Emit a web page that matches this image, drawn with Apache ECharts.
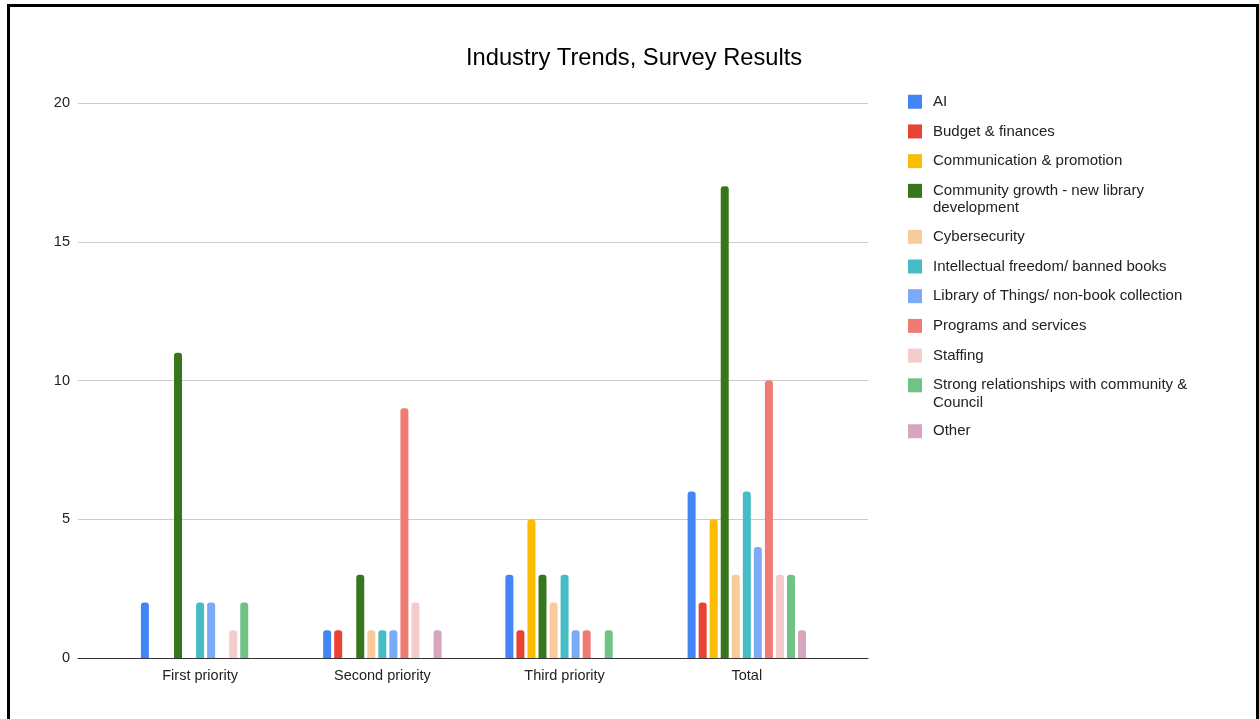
<!DOCTYPE html>
<html>
<head>
<meta charset="utf-8">
<title>Industry Trends, Survey Results</title>
<script src="https://cdn.jsdelivr.net/npm/echarts@6/dist/echarts.min.js"></script>
<style>
  html, body { margin: 0; padding: 0; background: #fff; }
  #chart { position: absolute; left: 0; top: 0; width: 1259px; height: 719px; }
  #frame {
    position: absolute; left: 7px; top: 4px; width: 1246px; height: 714px;
    border: 3px solid #000; border-bottom: 1px solid #ccc; pointer-events: none;
  }
</style>
</head>
<body>
<div id="chart"></div>
<div id="frame"></div>
<script>
// categories on the x axis
const categories = ['First priority', 'Second priority', 'Third priority', 'Total']

// one value per category for each answer
const ai = [2, 1, 3, 6]
const budget = [0, 1, 1, 2]
const communication = [0, 0, 5, 5]
const communityGrowth = [11, 3, 3, 17]
const cybersecurity = [0, 1, 2, 3]
const intellectualFreedom = [2, 1, 3, 6]
const libraryOfThings = [2, 1, 1, 4]
const programs = [0, 9, 1, 10]
const staffing = [1, 2, 0, 3]
const relationships = [2, 0, 1, 3]
const other = [0, 1, 0, 1]

const yTicks = [0, 5, 10, 15, 20]

const seriesList = [
  { name: 'AI', data: ai, color: '#4285f4' },
  { name: 'Budget & finances', data: budget, color: '#ea4335' },
  { name: 'Communication & promotion', data: communication, color: '#fbbc04' },
  { name: 'Community growth - new library development', data: communityGrowth, color: '#38761d', lines: ['Community growth - new library', 'development'] },
  { name: 'Cybersecurity', data: cybersecurity, color: '#f9cb9c' },
  { name: 'Intellectual freedom/ banned books', data: intellectualFreedom, color: '#46bdc6' },
  { name: 'Library of Things/ non-book collection', data: libraryOfThings, color: '#7baaf7' },
  { name: 'Programs and services', data: programs, color: '#f07b72' },
  { name: 'Staffing', data: staffing, color: '#f4cccc' },
  { name: 'Strong relationships with community & Council', data: relationships, color: '#71c287', lines: ['Strong relationships with community &', 'Council'] },
  { name: 'Other', data: other, color: '#d5a6bd' }
]

const chart = echarts.init(document.getElementById('chart'))

const option = {
  backgroundColor: '#fff',
  animation: false,
  textStyle: { fontFamily: 'Liberation Sans, Arial, sans-serif' },
  title: {
    text: 'Industry Trends, Survey Results',
    left: 461,
    top: 41,
    textStyle: { fontSize: 23.7, fontWeight: 'normal', color: '#000' }
  },
  legend: {
    orient: 'vertical',
    left: 903,
    top: 88,
    icon: 'rect',
    itemWidth: 14,
    itemHeight: 14,
    itemGap: 12.2,
    textStyle: { fontSize: 15, color: '#222', lineHeight: 17.5, padding: [0, 0, 0, 6] },
    data: seriesList.map(function(s) {
      if (s.lines) {
        // wrapped label: keep the first line level with the icon
        return {
          name: s.name,
          textStyle: {
            padding: [0, 0, -17.5, 6],
            rich: { w: { fontSize: 15, color: '#222', lineHeight: 17.5 } }
          }
        }
      }
      return { name: s.name }
    }),
    formatter: function(name) {
      const found = seriesList.find(function(s) { return s.name === name })
      if (found && found.lines) {
        return found.lines.map(function(l) { return '{w|' + l + '}' }).join('\n')
      }
      return name
    }
  },
  grid: { left: 78, right: 391, top: 103, bottom: 61, containLabel: false },
  xAxis: {
    type: 'value',
    min: -0.67,
    max: 3.665,
    splitLine: { show: false },
    axisLine: { show: true, onZero: false, lineStyle: { color: '#333', width: 1 } },
    axisTick: { show: false },
    axisLabel: {
      fontSize: 14.5,
      color: '#222',
      margin: 10,
      customValues: [0, 1, 2, 3],
      formatter: function(v) { return categories[Math.round(v)] }
    }
  },
  yAxis: {
    type: 'value',
    min: yTicks[0],
    max: yTicks[yTicks.length - 1],
    interval: 5,
    axisLine: { show: false },
    axisTick: { show: false },
    axisLabel: { fontSize: 14.5, color: '#222', margin: 8 },
    splitLine: { lineStyle: { color: '#cccccc', width: 1 } }
  },
  series: seriesList.map(function(s) {
    return {
      name: s.name,
      type: 'bar',
      data: s.data.map(function(v, i) { return [i, v] }),
      barWidth: 8,
      barGap: '38%',
      itemStyle: { color: s.color, borderRadius: [3, 3, 0, 0] }
    }
  })
}

chart.setOption(option)
</script>
</body>
</html>
